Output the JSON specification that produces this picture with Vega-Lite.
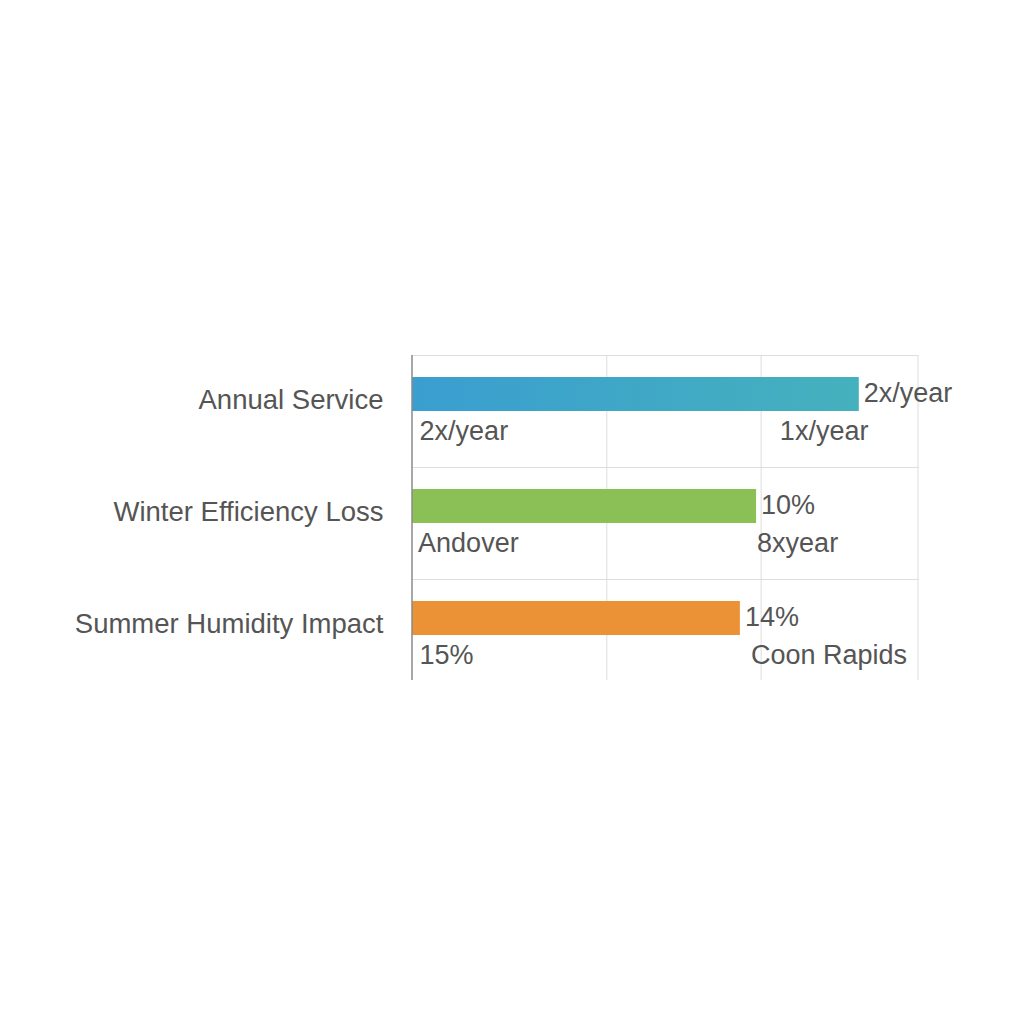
{
  "$schema": "https://vega.github.io/schema/vega-lite/v6.json",
  "autosize": "none",
  "padding": {"left": 412, "top": 355, "right": 106, "bottom": 344},
  "width": 506,
  "height": 325,
  "background": "white",
  "config": {"view": {"stroke": null}, "font": "Liberation Sans"},
  "datasets": {
    "bars": [
      {"category": "Annual Service", "value": 88.3, "label": "2x/year"},
      {"category": "Winter Efficiency Loss", "value": 68.0, "label": "10%"},
      {"category": "Summer Humidity Impact", "value": 64.8, "label": "14%"}
    ],
    "notes": [
      {"category": "Annual Service", "pos": 1.5, "note": "2x/year"},
      {"category": "Annual Service", "pos": 72.7, "note": "1x/year"},
      {"category": "Winter Efficiency Loss", "pos": 1.2, "note": "Andover"},
      {"category": "Winter Efficiency Loss", "pos": 68.2, "note": "8xyear"},
      {"category": "Summer Humidity Impact", "pos": 1.5, "note": "15%"},
      {"category": "Summer Humidity Impact", "pos": 67.0, "note": "Coon Rapids"}
    ],
    "grid": [
      {"gx": 38.5, "kind": "grid"},
      {"gx": 69, "kind": "grid"},
      {"gx": 100, "kind": "grid"}
    ],
    "axisline": [
      {"gx": 0}
    ]
  },
  "layer": [
    {
      "data": {"name": "grid"},
      "mark": {"type": "rule", "color": "#dddddd", "strokeWidth": 1},
      "encoding": {
        "x": {
          "field": "gx", "type": "quantitative",
          "scale": {"domain": [0, 100], "nice": false},
          "axis": null
        }
      }
    },
    {
      "data": {"name": "bars"},
      "transform": [{"filter": "datum.category !== 'Annual Service'"}],
      "mark": {"type": "bar", "height": 34, "yOffset": -17},
      "encoding": {
        "y": {
          "field": "category", "type": "nominal", "sort": null,
          "scale": {"domain": ["Annual Service", "Winter Efficiency Loss", "Summer Humidity Impact"], "range": [0, 336], "paddingInner": 0, "paddingOuter": 0},
          "axis": {
            "title": null, "bandPosition": 0, "grid": true, "gridColor": "#dddddd",
            "ticks": false, "domain": false,
            "labelFontSize": 27.5, "labelColor": "#555555", "labelOffset": -10,
            "labelPadding": 29, "labelFont": "Liberation Sans", "labelLimit": 400
          }
        },
        "x": {"field": "value", "type": "quantitative"},
        "color": {
          "field": "category", "type": "nominal", "legend": null,
          "scale": {"domain": ["Winter Efficiency Loss", "Summer Humidity Impact"], "range": ["#8bc057", "#ec9236"]}
        }
      }
    },
    {
      "data": {"name": "bars"},
      "transform": [{"filter": "datum.category === 'Annual Service'"}],
      "mark": {
        "type": "bar", "height": 34, "yOffset": -17,
        "color": {
          "gradient": "linear", "x1": 0, "y1": 0, "x2": 1, "y2": 0,
          "stops": [{"offset": 0, "color": "#3a9ed0"}, {"offset": 1, "color": "#45b1bd"}]
        }
      },
      "encoding": {
        "y": {"field": "category", "type": "nominal", "sort": null},
        "x": {"field": "value", "type": "quantitative"}
      }
    },
    {
      "data": {"name": "axisline"},
      "mark": {"type": "rule", "color": "#8a8a8a", "strokeWidth": 1.5},
      "encoding": {
        "x": {"field": "gx", "type": "quantitative"}
      }
    },
    {
      "data": {"name": "bars"},
      "mark": {"type": "text", "align": "left", "baseline": "middle", "dx": 5, "dy": -17, "fontSize": 27, "color": "#555555", "font": "Liberation Sans"},
      "encoding": {
        "y": {"field": "category", "type": "nominal", "sort": null},
        "x": {"field": "value", "type": "quantitative"},
        "text": {"field": "label"}
      }
    },
    {
      "data": {"name": "notes"},
      "mark": {"type": "text", "align": "left", "baseline": "middle", "dy": 21, "fontSize": 27, "color": "#555555", "font": "Liberation Sans"},
      "encoding": {
        "y": {"field": "category", "type": "nominal", "sort": null},
        "x": {"field": "pos", "type": "quantitative"},
        "text": {"field": "note"}
      }
    }
  ]
}
